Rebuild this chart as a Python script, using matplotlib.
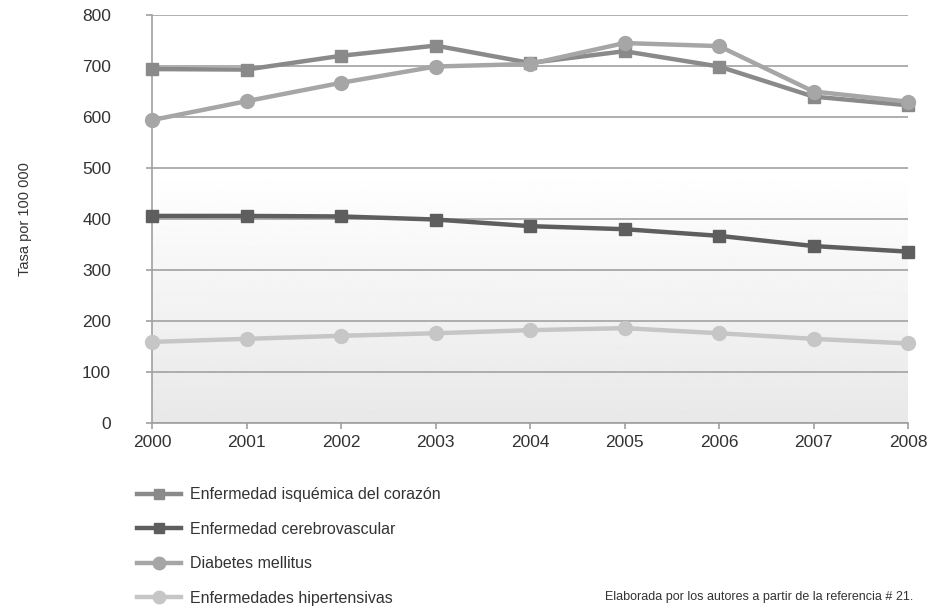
import numpy as np
import matplotlib
matplotlib.use("Agg")
import matplotlib.pyplot as plt

plt.rcParams['font.family'] = ['Liberation Sans', 'DejaVu Sans']

years = [2000, 2001, 2002, 2003, 2004, 2005, 2006, 2007, 2008]
isquemica = [694, 693, 720, 740, 706, 729, 699, 640, 623]
cerebrovascular = [406, 406, 405, 399, 386, 380, 367, 347, 336]
diabetes = [594, 631, 667, 699, 704, 745, 739, 650, 630]
hipertensivas = [159, 165, 171, 176, 182, 186, 176, 165, 156]

labels = ["Enfermedad isquémica del corazón",
          "Enfermedad cerebrovascular",
          "Diabetes mellitus",
          "Enfermedades hipertensivas"]
y_ticks = [0, 100, 200, 300, 400, 500, 600, 700, 800]

fig = plt.figure(figsize=(9.34, 6.10), dpi=100)
ax = fig.add_axes([152/934, 1-423/610, (908-152)/934, (423-15)/610])

# soft vertical shading of the plotting area
h = np.linspace(0, 1, 256)
shade = np.where(h > 0.62, 1.0, 0.91 + 0.09 * (h / 0.62))
ax.imshow(shade[:, None], origin='lower', aspect='auto', cmap='gray',
          vmin=0, vmax=1, extent=[0, 1, 0, 1], transform=ax.transAxes,
          zorder=0)

ax.set_xlim(2000, 2008)
ax.set_ylim(0, 800)
ax.set_yticks(y_ticks)
ax.set_xticks(years)
ax.yaxis.grid(True, color='#a8a8a8', linewidth=1.3, zorder=1)
ax.set_axisbelow(True)

for s in ['top', 'right']:
    ax.spines[s].set_visible(False)
ax.spines['left'].set_color('#a0a0a0')
ax.spines['bottom'].set_color('#a0a0a0')
ax.spines['left'].set_linewidth(1.2)
ax.spines['bottom'].set_linewidth(1.2)
ax.spines['left'].set_zorder(2)
ax.tick_params(axis='both', colors='#a0a0a0', labelcolor='#333333',
               labelsize=12.5, length=4.5, width=1.2)
ax.tick_params(axis='y', pad=25)
ax.tick_params(axis='x', pad=4)

series = [
    (isquemica, '#8a8a8a', 's', 8),
    (cerebrovascular, '#5e5e5e', 's', 8),
    (diabetes, '#a6a6a6', 'o', 10),
    (hipertensivas, '#c6c6c6', 'o', 10),
]
handles = []
for (vals, col, mk, ms), lab in zip(series, labels):
    ln, = ax.plot(years, vals, color=col, linewidth=3.2, marker=mk,
                  markersize=ms, markerfacecolor=col, markeredgecolor=col,
                  label=lab, zorder=3, clip_on=False)
    handles.append(ln)

ax.set_ylabel("Tasa por 100 000", fontsize=10.5, color='#333333', labelpad=36)

leg = fig.legend(handles=handles, loc='upper left',
                 bbox_to_anchor=(131/934, 1-481/610), frameon=False,
                 fontsize=11.5, handlelength=2.7, handletextpad=0.6,
                 labelspacing=1.22, markerscale=0.9, borderaxespad=0.0)
for t in leg.get_texts():
    t.set_color('#333333')

fig.text(913/934, 1-597/610, "Elaborada por los autores a partir de la referencia # 21.",
         ha='right', va='center', fontsize=9, color='#333333')

fig.savefig("out.png", dpi=100)
